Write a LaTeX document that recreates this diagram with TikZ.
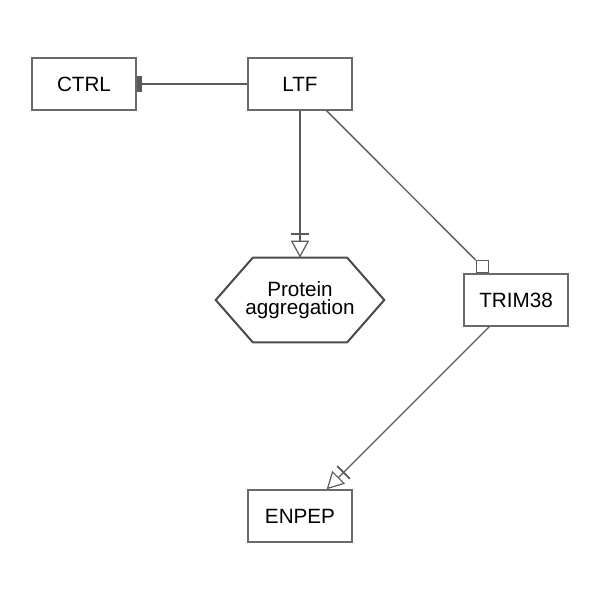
\documentclass[tikz,border=0pt]{standalone}
\usepackage{fontspec}
\setmainfont{Liberation Sans}
\usetikzlibrary{arrows.meta,positioning}
\definecolor{Edge}{HTML}{5A5A5A}
\definecolor{Frame}{HTML}{6A6A6A}
\definecolor{Dark}{HTML}{4A4A4A}
\tikzset{
  gene/.style={
    draw=Frame, line width=1.1pt, fill=white,
    minimum width=78pt, minimum height=39pt, inner sep=0pt,
    font=\fontsize{15.5}{14}\selectfont
  },
  process/.style={
    align=center, minimum width=126pt, minimum height=63pt,
    inner sep=0pt, font=\fontsize{15.5}{14}\selectfont
  },
  hexline/.style={draw=Dark, line width=1.5pt, line join=miter},
  port/.style={draw=Edge, line width=0.9pt, fill=white,
    minimum size=9pt, inner sep=0pt},
  link/.style={draw=Edge, line width=1pt},
  inhibit/.style={link, -{Rectangle[length=4pt,width=12.5pt]}},
  stimulate/.style={link,
    -{Bar[width=13.5pt,line width=1.3pt,sep=4.5pt] Triangle[open,length=12.75pt,width=13.5pt,line width=0.9pt]}}
}
\begin{document}
\begin{tikzpicture}[x=0.75pt,y=-0.75pt]
    \useasboundingbox (0,0) rectangle (600,600);
    \node[gene] (ctrl) at (84,84) {CTRL};
    \node[gene] (ltf) at (300,84) {LTF};
    \node[process] (aggr) at (300,300) {Protein\\aggregation};
    \draw[hexline] (aggr.west) -- ([xshift=27.75pt]aggr.north west)
      -- ([xshift=-27.75pt]aggr.north east) -- (aggr.east)
      -- ([xshift=-27.75pt]aggr.south east)
      -- ([xshift=27.75pt]aggr.south west) -- cycle;
    \node[gene] (trim) at (516,300) {TRIM38};
    \node[gene] (enpep) at (300,516) {ENPEP};
    \node[port,above=0pt of trim.north west,xshift=14.25pt] (sq) {};
    \draw[inhibit] (ltf) -- (ctrl);
    \draw[stimulate] (ltf) -- (aggr);
    \draw[link] (ltf) -- (sq.north west);
    \draw[stimulate] (trim) -- (enpep);
\end{tikzpicture}
\end{document}
